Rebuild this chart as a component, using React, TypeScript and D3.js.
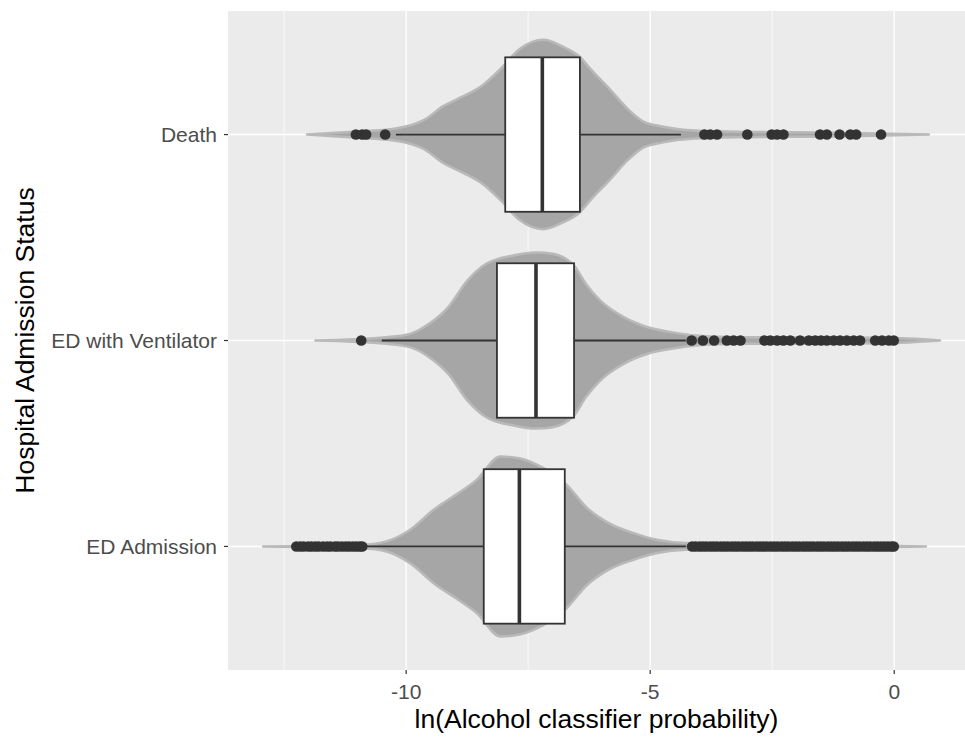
import React from "react";
import * as d3 from "d3";

const categories = ["Death", "ED with Ventilator", "ED Admission"];
const q1Values = [-7.97, -8.14, -8.41];
const medianValues = [-7.21, -7.34, -7.68];
const q3Values = [-6.44, -6.56, -6.75];
const whiskerLow = [-10.21, -10.5, -10.85];
const whiskerHigh = [-4.37, -4.27, -4.27];

const deathOutliers = [-11.03, -10.9, -10.82, -10.43, -3.89, -3.77, -3.63, -3.01, -2.51, -2.4, -2.27, -1.52, -1.38, -1.12, -0.9, -0.78, -0.27];
const ventilatorOutliers = [-10.92, -4.15, -3.92, -3.69, -3.43, -3.29, -3.15, -2.66, -2.54, -2.4, -2.27, -2.13, -1.93, -1.75, -1.62, -1.5, -1.38, -1.24, -1.11, -0.97, -0.83, -0.7, -0.39, -0.25, -0.11, -0.01];
const admissionOutliers = [
  -12.25, -12.17, -12.1, -12.01, -11.94, -11.86, -11.79, -11.7, -11.62, -11.55, -11.46, -11.4, -11.32, -11.24, -11.17, -11.09, -11.02, -10.95, -10.9,
  -4.14, -4.07, -3.99, -3.92, -3.85, -3.77, -3.7, -3.63, -3.55, -3.48, -3.41, -3.33, -3.26, -3.19, -3.11, -3.04, -2.97, -2.9, -2.82, -2.75,
  -2.68, -2.61, -2.53, -2.46, -2.39, -2.31, -2.24, -2.17, -2.09, -2.02, -1.95, -1.87, -1.8, -1.73, -1.66, -1.58, -1.51, -1.44, -1.36, -1.29,
  -1.22, -1.15, -1.07, -1.0, -0.93, -0.85, -0.78, -0.71, -0.63, -0.56, -0.49, -0.41, -0.34, -0.27, -0.2, -0.13, -0.06, -0.01,
];

const deathDensity: [number, number][] = [
  [-12.03, 0], [-11.09, 0.03], [-10.21, 0.065], [-9.63, 0.155], [-9.24, 0.3], [-8.85, 0.4], [-8.46, 0.51], [-8.07, 0.69],
  [-7.68, 0.9], [-7.19, 1.0], [-6.8, 0.93], [-6.44, 0.82], [-6.22, 0.69], [-5.83, 0.48], [-5.44, 0.26], [-5.15, 0.14],
  [-4.76, 0.085], [-4.08, 0.042], [-3.1, 0.028], [-1.16, 0.02], [0.71, 0],
];
const ventilatorDensity: [number, number][] = [
  [-11.86, 0], [-10.4, 0.035], [-9.92, 0.07], [-9.53, 0.176], [-9.14, 0.35], [-8.75, 0.63], [-8.36, 0.81], [-7.78, 0.9],
  [-7.34, 0.93], [-7.0, 0.915], [-6.56, 0.79], [-6.32, 0.6], [-6.02, 0.42], [-5.54, 0.246], [-5.05, 0.14], [-4.56, 0.088],
  [-4.08, 0.053], [-3.1, 0.035], [-0.18, 0.028], [0.94, 0],
];
const admissionDensity: [number, number][] = [
  [-12.93, 0], [-10.89, 0.018], [-10.4, 0.053], [-9.92, 0.176], [-9.43, 0.39], [-8.94, 0.56], [-8.56, 0.7], [-8.07, 0.95],
  [-7.68, 0.93], [-7.39, 0.88], [-6.71, 0.65], [-6.32, 0.42], [-5.83, 0.24], [-5.34, 0.14], [-4.86, 0.07], [-4.27, 0.035],
  [-2.13, 0.024], [0.65, 0],
];

const xMajorTicks = [-10, -5, 0];
const xMinorTicks = [-12.5, -7.5, -2.5];
const xTitle = "ln(Alcohol classifier probability)";
const yTitle = "Hospital Admission Status";

const outliers = [deathOutliers, ventilatorOutliers, admissionOutliers];
const densities = [deathDensity, ventilatorDensity, admissionDensity];

export default function App() {
  const W = 965, H = 738;
  const panel = { left: 228, right: 965, top: 11, bottom: 670 };
  const x = d3.scaleLinear().domain([-13.65, 1.45]).range([panel.left, panel.right]);
  const y = d3.scalePoint<string>().domain(categories).range([panel.top, panel.bottom]).padding(0.6);
  const step = y.step();
  const w = d3.scaleLinear().domain([0, 1]).range([0, step * 0.46]);
  const boxHalf = step * 0.75 / 2;
  const font = "'Liberation Sans', Arial, Helvetica, sans-serif";
  const ink = "#333333";

  return (
    <svg width={W} height={H} style={{ position: "absolute", left: 0, top: 0, background: "#fff" }} fontFamily={font}>
      <defs>
        <clipPath id="panelClip">
          <rect x={panel.left} y={panel.top} width={panel.right - panel.left} height={panel.bottom - panel.top} />
        </clipPath>
      </defs>
      <rect x={panel.left} y={panel.top} width={panel.right - panel.left} height={panel.bottom - panel.top} fill="#EBEBEB" />
      <g clipPath="url(#panelClip)">
        {xMinorTicks.map((t) => (
          <line key={"mi" + t} x1={x(t)} x2={x(t)} y1={panel.top} y2={panel.bottom} stroke="#fff" strokeWidth={0.7} />
        ))}
        {xMajorTicks.map((t) => (
          <line key={"ma" + t} x1={x(t)} x2={x(t)} y1={panel.top} y2={panel.bottom} stroke="#fff" strokeWidth={1.4} />
        ))}
        {categories.map((c) => (
          <line key={"hy" + c} x1={panel.left} x2={panel.right} y1={y(c)} y2={y(c)} stroke="#fff" strokeWidth={1.4} />
        ))}
        {categories.map((c, i) => {
          const cy = y(c) as number;
          const area = d3
            .area<[number, number]>()
            .x((d) => x(d[0]))
            .y0((d) => cy - w(d[1]))
            .y1((d) => cy + w(d[1]))
            .curve(d3.curveMonotoneX);
          return (
            <path key={"v" + c} d={area(densities[i]) || ""} fill="#A6A6A6" stroke="#B9B9B9" strokeWidth={2.5} strokeLinejoin="round" />
          );
        })}
        {categories.map((c, i) => {
          const cy = y(c) as number;
          return (
            <g key={"b" + c}>
              <line x1={x(whiskerLow[i])} x2={x(q1Values[i])} y1={cy} y2={cy} stroke={ink} strokeWidth={1.8} />
              <line x1={x(q3Values[i])} x2={x(whiskerHigh[i])} y1={cy} y2={cy} stroke={ink} strokeWidth={1.8} />
              <rect
                x={x(q1Values[i])}
                y={cy - boxHalf}
                width={x(q3Values[i]) - x(q1Values[i])}
                height={boxHalf * 2}
                fill="#fff"
                stroke={ink}
                strokeWidth={1.8}
              />
              <line x1={x(medianValues[i])} x2={x(medianValues[i])} y1={cy - boxHalf} y2={cy + boxHalf} stroke={ink} strokeWidth={3.6} />
              {outliers[i].map((v, k) => (
                <circle key={k} cx={x(v)} cy={cy} r={5.3} fill={ink} />
              ))}
            </g>
          );
        })}
      </g>
      {xMajorTicks.map((t) => (
        <g key={"xt" + t}>
          <line x1={x(t)} x2={x(t)} y1={panel.bottom} y2={panel.bottom + 4} stroke={ink} strokeWidth={1.2} />
          <text x={x(t)} y={699} textAnchor="middle" fontSize={21} fill="#4D4D4D">
            {String(t)}
          </text>
        </g>
      ))}
      {categories.map((c) => (
        <g key={"yt" + c}>
          <line x1={panel.left - 4} x2={panel.left} y1={y(c)} y2={y(c)} stroke={ink} strokeWidth={1.2} />
          <text x={panel.left - 11} y={(y(c) as number) + 7.5} textAnchor="end" fontSize={21} fill="#4D4D4D">
            {c}
          </text>
        </g>
      ))}
      <text x={(panel.left + panel.right) / 2} y={728} textAnchor="middle" fontSize={26.5} fill="#000">
        {xTitle}
      </text>
      <text
        transform={`translate(34, ${(panel.top + panel.bottom) / 2}) rotate(-90)`}
        textAnchor="middle"
        fontSize={26.5}
        fill="#000"
      >
        {yTitle}
      </text>
    </svg>
  );
}
